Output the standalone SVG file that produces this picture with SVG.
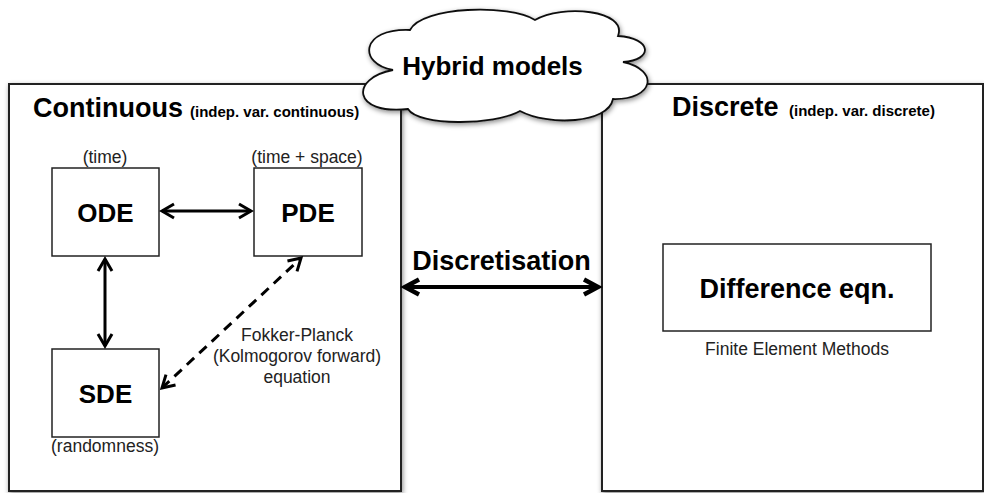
<svg xmlns="http://www.w3.org/2000/svg" width="984" height="493" viewBox="0 0 984 493">
<style>
.frame{fill:#fff;stroke:#222;stroke-width:2;filter:url(#sh)}
.box{fill:#fff;stroke:#222;stroke-width:1.5}
.big{font-family:"Liberation Sans",Arial,sans-serif;font-weight:bold;font-size:27px;fill:#000}
.node{font-family:"Liberation Sans",Arial,sans-serif;font-weight:bold;font-size:26px;fill:#000;text-anchor:middle}
.sub{font-family:"Liberation Sans",Arial,sans-serif;font-weight:bold;font-size:15px;fill:#000}
.lbl{font-family:"Liberation Sans",Arial,sans-serif;font-size:17.5px;fill:#222;text-anchor:middle}
.con{fill:none;stroke:#000;stroke-width:3}
</style>
<defs>
<filter id="sh" x="-10%" y="-10%" width="120%" height="120%">
<feDropShadow dx="1" dy="2" stdDeviation="2.5" flood-color="#000" flood-opacity="0.45"/>
</filter>
<marker id="ah" markerUnits="userSpaceOnUse" viewBox="-16 -10 18 20" refX="0" refY="0" markerWidth="18" markerHeight="20" orient="auto-start-reverse" overflow="visible">
<path d="M-12,-7 L0,0 L-12,7" fill="none" stroke="#000" stroke-width="3" stroke-linejoin="miter"/>
</marker>
<marker id="ahb" markerUnits="userSpaceOnUse" viewBox="-18 -11 20 22" refX="0" refY="0" markerWidth="20" markerHeight="22" orient="auto-start-reverse" overflow="visible">
<path d="M-14,-7.5 L0,0 L-14,7.5" fill="none" stroke="#000" stroke-width="4.5" stroke-linejoin="miter"/>
</marker>
</defs>
<rect width="984" height="493" fill="#fff"/>

<g id="continuous">
<rect class="frame" x="9" y="84" width="392" height="407"/>
<text class="big" x="33" y="117">Continuous</text>
<text class="sub" x="190" y="117">(indep. var. continuous)</text>
</g>

<g id="discrete">
<rect class="frame" x="602" y="84" width="381" height="407"/>
<text class="big" x="672" y="116">Discrete</text>
<text class="sub" x="789" y="116">(indep. var. discrete)</text>
</g>

<g id="hybrid">
<path d="M393,70 C358,64 360,28 410,30 C422,6 510,4 535,20 C562,4 628,10 618,36 C652,38 654,60 623,62 C660,70 654,100 613,99 C608,124 548,126 520,111 C494,126 418,126 408,109 C352,115 350,78 393,70 Z" fill="#fff" stroke="#111" stroke-width="1.8" filter="url(#sh)"/>
<text class="node" x="492.5" y="75" style="font-size:26px">Hybrid models</text>
</g>

<g id="ode">
<rect class="box" x="52" y="168" width="107" height="88"/>
<text class="node" x="105.5" y="222">ODE</text>
<text class="lbl" x="105" y="163">(time)</text>
</g>

<g id="pde">
<rect class="box" x="254" y="168" width="108" height="88"/>
<text class="node" x="308" y="222">PDE</text>
<text class="lbl" x="307" y="163">(time + space)</text>
</g>

<g id="sde">
<rect class="box" x="52" y="349" width="107" height="88"/>
<text class="node" x="105.5" y="403">SDE</text>
<text class="lbl" x="105" y="452">(randomness)</text>
</g>

<g id="difference">
<rect class="box" x="663" y="244" width="268" height="87"/>
<text class="node" x="797" y="298" style="font-size:27px">Difference eqn.</text>
<text class="lbl" x="797" y="355">Finite Element Methods</text>
</g>

<g id="connectors">
<line class="con" x1="162" y1="211" x2="251" y2="211" marker-start="url(#ah)" marker-end="url(#ah)"/>
<line class="con" x1="105" y1="259" x2="105" y2="346" marker-start="url(#ah)" marker-end="url(#ah)"/>
<line class="con" x1="162" y1="388" x2="301" y2="258" stroke-dasharray="10,7" marker-start="url(#ah)" marker-end="url(#ah)"/>
<line x1="405" y1="287" x2="598" y2="287" stroke="#000" stroke-width="4" marker-start="url(#ahb)" marker-end="url(#ahb)"/>
<text class="node" x="501.5" y="270" style="font-size:27px">Discretisation</text>
<text class="lbl" x="297" y="341">Fokker-Planck</text>
<text class="lbl" x="297" y="362">(Kolmogorov forward)</text>
<text class="lbl" x="297" y="383">equation</text>
</g>
</svg>
